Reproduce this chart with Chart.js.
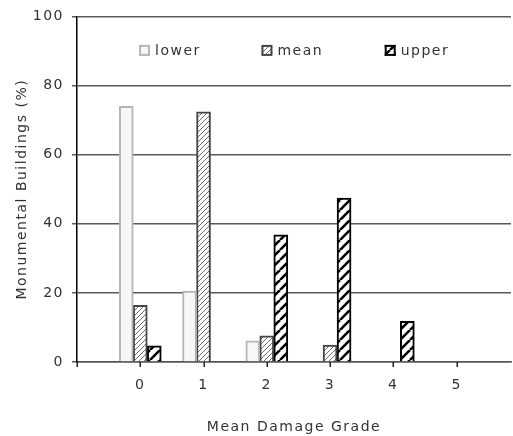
<!DOCTYPE html>
<html>
<head>
<meta charset="utf-8">
<script src="https://cdn.jsdelivr.net/npm/chart.js@4/dist/chart.umd.min.js"></script>
<style>
  html, body { margin: 0; padding: 0; background: #fff; }
  #wrap { width: 513px; height: 436px; }
</style>
</head>
<body>
<div id="wrap"><canvas id="damageChart"></canvas></div>
<script>
// ---------------- data ----------------
const grades = [0, 1, 2, 3, 4, 5];
const lowerValues = [74, 20.5, 6.1, null, null, null];
const meanValues = [16.4, 72.4, 7.6, 4.9, null, null];
const upperValues = [4.7, null, 36.8, 47.4, 11.8, null];
const yTicks = [0, 20, 40, 60, 80, 100];
const xTicks = [-1, 0, 1, 2, 3, 4, 5]; // -1 only carries a tick mark at the axis start

// ---------------- styles ----------------
const TEXT = "#333333";
const SPACING = "1.5px";

function makeHatch(ctx, size, color, width) {
  const c = document.createElement("canvas");
  c.width = size;
  c.height = size;
  const g = c.getContext("2d");
  g.fillStyle = "#ffffff";
  g.fillRect(0, 0, size, size);
  g.strokeStyle = color;
  g.lineWidth = width;
  g.beginPath();
  for (const o of [-size, 0, size]) {
    g.moveTo(o, size);
    g.lineTo(o + size, 0);
  }
  g.stroke();
  return ctx.createPattern(c, "repeat");
}

const canvas = document.getElementById("damageChart");
const ctx = canvas.getContext("2d");
const meanFill = makeHatch(ctx, 5, "#707070", 1);
const upperFill = makeHatch(ctx, 10, "#000000", 2.6);

function toPoints(values) {
  return grades.map((g, i) => ({ x: g, y: values[i] }));
}

// letter spacing on the chart context (reset whenever the canvas is resized)
const spacingPlugin = {
  id: "spacing",
  beforeLayout(chart) { chart.ctx.letterSpacing = SPACING; },
  beforeDraw(chart) { chart.ctx.letterSpacing = SPACING; },
};

// x tick marks below the axis, painted last so nothing covers them
const xTickMarks = {
  id: "xTickMarks",
  afterDraw(chart) {
    const c = chart.ctx;
    const sx = chart.scales.x;
    const y0 = chart.chartArea.bottom;
    c.save();
    c.strokeStyle = "#222222";
    c.lineWidth = 1.5;
    c.beginPath();
    xTicks.forEach((v) => {
      const px = Math.round(sx.getPixelForValue(v)) + 0.25;
      c.moveTo(px, y0);
      c.lineTo(px, y0 + 5);
    });
    c.stroke();
    c.restore();
  },
};

// legend drawn inside the plot, in one row near the top
const insideLegend = {
  id: "insideLegend",
  afterDatasetsDraw(chart) {
    const c = chart.ctx;
    const area = chart.chartArea;
    const w = area.right - area.left;
    const slots = [0.143, 0.425, 0.709];
    const y = area.top + 34;
    c.save();
    c.letterSpacing = SPACING;
    c.font = "14px 'DejaVu Sans'";
    c.textBaseline = "middle";
    chart.data.datasets.forEach((ds, i) => {
      const x = area.left + w * slots[i];
      c.fillStyle = ds.backgroundColor;
      c.fillRect(x, y - 5.5, 11, 11);
      c.lineWidth = 2;
      c.strokeStyle = ds.borderColor;
      c.strokeRect(x + 1, y - 4.5, 9, 9);
      c.fillStyle = TEXT;
      c.fillText(ds.label, x + 16, y + 1);
    });
    c.restore();
  },
};

Chart.defaults.font.family = "'DejaVu Sans'";
Chart.defaults.font.size = 14;
Chart.defaults.color = TEXT;

new Chart(ctx, {
  type: "bar",
  data: {
    datasets: [
      {
        label: "lower",
        data: toPoints(lowerValues),
        backgroundColor: "#f7f7f7",
        borderColor: "#b5b5b5",
        borderWidth: 2,
      },
      {
        label: "mean",
        data: toPoints(meanValues),
        backgroundColor: meanFill,
        borderColor: "#444444",
        borderWidth: 2,
      },
      {
        label: "upper",
        data: toPoints(upperValues),
        backgroundColor: upperFill,
        borderColor: "#000000",
        borderWidth: 2,
      },
    ],
  },
  options: {
    responsive: true,
    maintainAspectRatio: false,
    animation: false,
    barThickness: 14,
    layout: { padding: { top: 14, right: 2, left: 14, bottom: 0 } },
    plugins: {
      legend: { display: false },
      tooltip: { enabled: false },
    },
    scales: {
      x: {
        type: "linear",
        min: -1,
        max: 5.86,
        offset: false,
        afterBuildTicks(scale) {
          scale.ticks = xTicks.map((v) => ({ value: v }));
        },
        afterFit(scale) { scale.height = 74; },
        grid: {
          offset: false,
          drawOnChartArea: false,
          drawTicks: true,
          tickLength: 5,
          tickColor: "rgba(0,0,0,0)",
        },
        border: { color: "#555555", width: 1.5 },
        ticks: {
          padding: 10,
          color: TEXT,
          callback: (v) => (v < 0 ? "" : String(v)),
        },
        title: {
          display: true,
          text: "Mean Damage Grade",
          color: TEXT,
          padding: { top: 11, bottom: 0 },
        },
      },
      y: {
        min: 0,
        max: 100,
        afterBuildTicks(scale) {
          scale.ticks = yTicks.map((v) => ({ value: v }));
        },
        afterFit(scale) { scale.width = 63; },
        grid: {
          color: "#5a5a5a",
          lineWidth: 1.5,
          tickLength: 5,
        },
        border: { color: "#000000", width: 1.5 },
        ticks: { padding: 8, color: TEXT },
        title: {
          display: true,
          text: "Monumental Buildings (%)",
          color: TEXT,
          padding: { top: 0, bottom: 2 },
        },
      },
    },
  },
  plugins: [spacingPlugin, insideLegend, xTickMarks],
});
</script>
</body>
</html>
